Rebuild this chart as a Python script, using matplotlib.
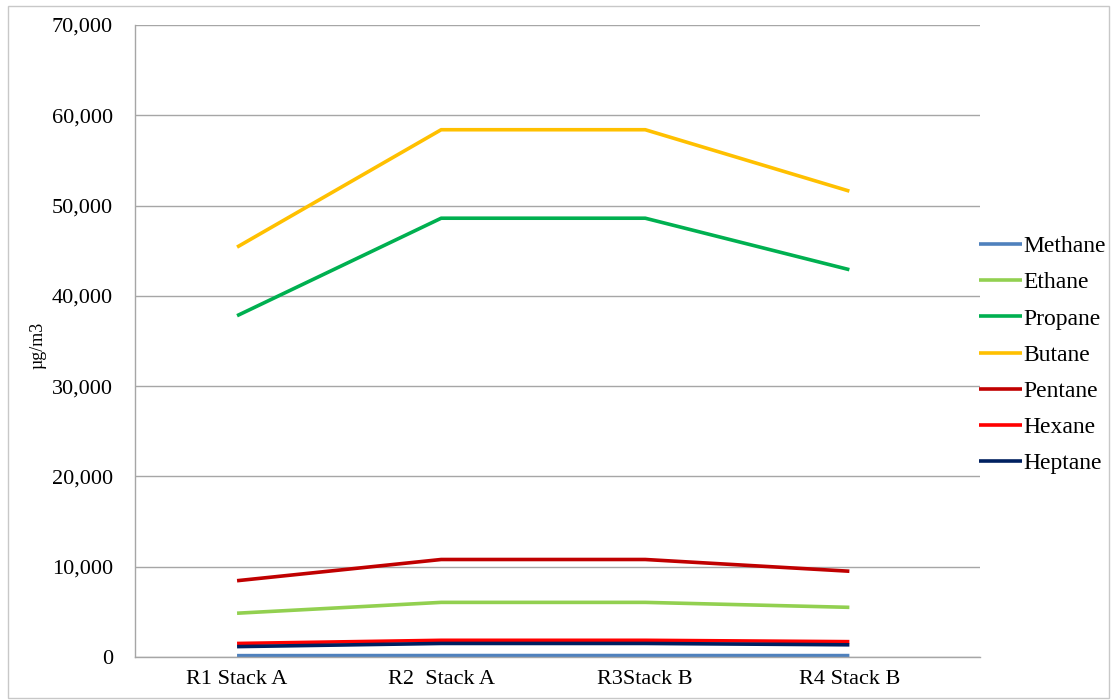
import matplotlib.pyplot as plt
from matplotlib.patches import Rectangle
from matplotlib.ticker import FuncFormatter

categories = ['R1 Stack A', 'R2  Stack A', 'R3Stack B', 'R4 Stack B']
series = ['Methane', 'Ethane', 'Propane', 'Butane', 'Pentane', 'Hexane', 'Heptane']
methane = [150, 160, 160, 155]
ethane = [4850, 6050, 6050, 5500]
propane = [37800, 48600, 48600, 42900]
butane = [45400, 58400, 58400, 51600]
pentane = [8450, 10800, 10800, 9500]
hexane = [1500, 1850, 1850, 1700]
heptane = [1150, 1500, 1500, 1350]
colors = ['#4F81BD', '#92D050', '#00B050', '#FFC000', '#C00000', '#FF0000', '#002060']

values = [methane, ethane, propane, butane, pentane, hexane, heptane]

plt.rcParams['font.family'] = ['Liberation Serif', 'DejaVu Serif']

fig = plt.figure(figsize=(11.13, 7.0), dpi=100)
ax = fig.add_axes([135 / 1113, 1 - 657 / 700, (980 - 135) / 1113, (657 - 25) / 700])

x = list(range(len(categories)))
for name, vals, c in zip(series, values, colors):
    ax.plot(x, vals, color=c, lw=2.6, label=name, solid_capstyle='butt')

ax.set_xlim(-0.5, 3.64)
ax.set_ylim(0, 70000)
ax.set_yticks(range(0, 70001, 10000))
ax.yaxis.set_major_formatter(FuncFormatter(lambda v, p: '{:,.0f}'.format(v)))
ax.set_xticks(x)
ax.set_xticklabels(categories)
ax.tick_params(axis='both', length=0, labelsize=16, colors='black')
ax.tick_params(axis='x', pad=9)
ax.tick_params(axis='y', pad=16)
ax.grid(axis='y', color='#a6a6a6', lw=1)
ax.set_axisbelow(True)
for s in ['top', 'right']:
    ax.spines[s].set_visible(False)
for s in ['left', 'bottom']:
    ax.spines[s].set_color('#a6a6a6')
    ax.spines[s].set_linewidth(1)

fig.text(38 / 1113, 1 - 345 / 700, 'µg/m3', rotation=90, ha='center', va='center', fontsize=13)

ax.legend(loc='center left', bbox_to_anchor=(979 / 1113, 1 - 355 / 700), bbox_transform=fig.transFigure,
          frameon=False, fontsize=17, handlelength=1.82, handletextpad=0.05, labelspacing=0.62,
          borderaxespad=0, borderpad=0)

fig.patches.append(Rectangle((8 / 1113, 2 / 700), 1 - 12 / 1113, 1 - 8 / 700, transform=fig.transFigure,
                             fill=False, edgecolor='#c8c8c8', lw=1))

fig.savefig('out.png', dpi=100)
